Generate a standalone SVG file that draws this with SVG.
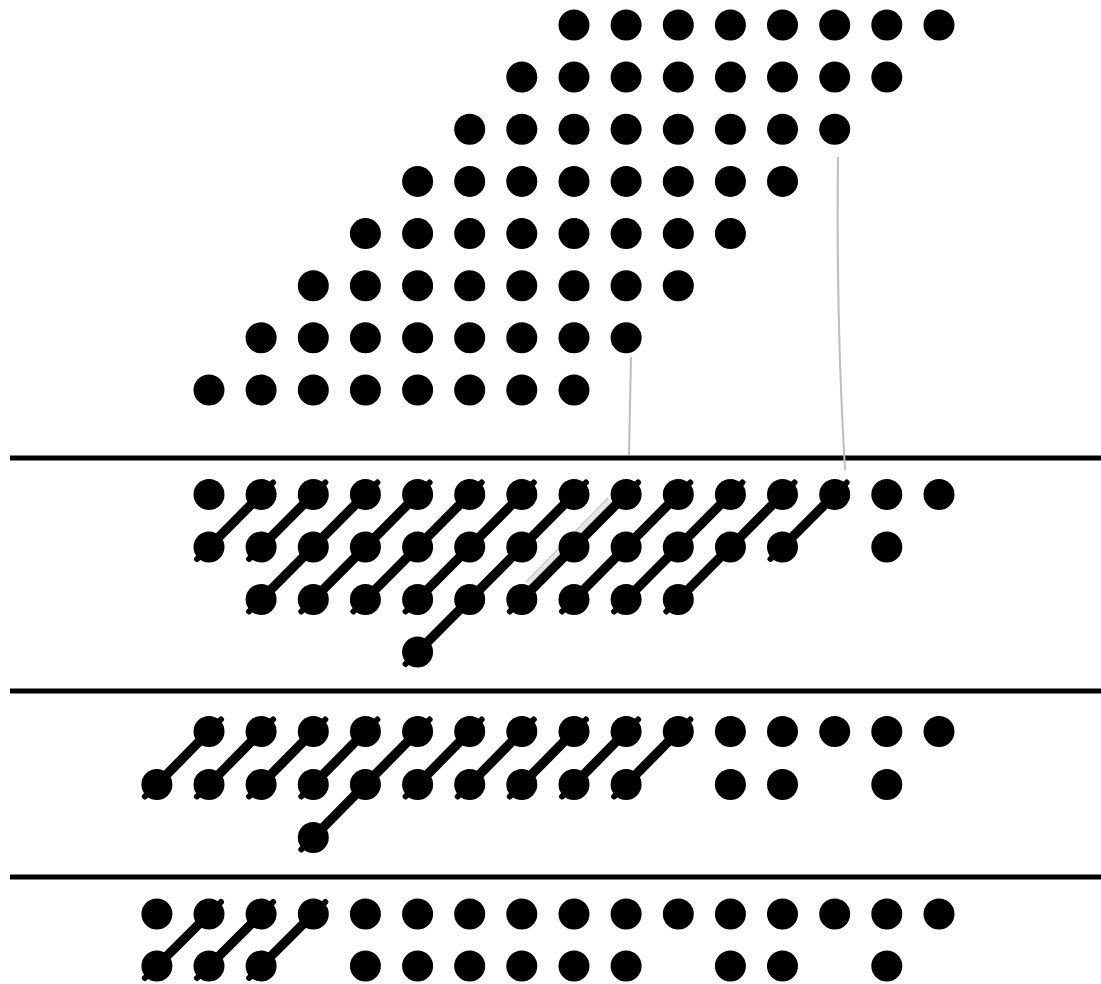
<svg xmlns="http://www.w3.org/2000/svg" width="1101" height="984" viewBox="0 0 1101 984">
<style>
.rule{stroke:#000;stroke-width:5;fill:none}
.ghost{stroke:#bdbdbd;stroke-width:2;fill:none}
.link{stroke:#000;stroke-width:9.5;fill:none;stroke-linecap:butt}
.tail{stroke:#000;stroke-width:6;fill:none;stroke-linecap:round}
.dot{fill:#000}
</style>
<defs>
<circle id="d" class="dot" r="15.5"/>
</defs>
<rect width="1101" height="984" fill="#fff"/>

<g id="separators">
<line class="rule" x1="10" y1="458" x2="1101" y2="458"/>
<line class="rule" x1="10" y1="691" x2="1101" y2="691"/>
<line class="rule" x1="10" y1="877" x2="1101" y2="877"/>
</g>

<g id="pencil-marks">
<path class="ghost" d="M838,157 Q836,320 845,470"/>
<path class="ghost" d="M631,357 L629,455"/>
<path d="M530,586 L612,502" stroke="#e4e4e4" stroke-width="9" fill="none"/>
<path d="M526,582 L608,498 M534,590 L616,506" stroke="#c8c8c8" stroke-width="1.5" fill="none"/>
</g>

<g id="partial-products">
<g id="pp-row0"><use href="#d" x="574" y="25"/><use href="#d" x="626.1" y="25"/><use href="#d" x="678.3" y="25"/><use href="#d" x="730.4" y="25"/><use href="#d" x="782.5" y="25"/><use href="#d" x="834.7" y="25"/><use href="#d" x="886.8" y="25"/><use href="#d" x="939" y="25"/></g>
<g id="pp-row1"><use href="#d" x="521.8" y="77.1"/><use href="#d" x="574" y="77.1"/><use href="#d" x="626.1" y="77.1"/><use href="#d" x="678.3" y="77.1"/><use href="#d" x="730.4" y="77.1"/><use href="#d" x="782.5" y="77.1"/><use href="#d" x="834.7" y="77.1"/><use href="#d" x="886.8" y="77.1"/></g>
<g id="pp-row2"><use href="#d" x="469.7" y="129.3"/><use href="#d" x="521.8" y="129.3"/><use href="#d" x="574" y="129.3"/><use href="#d" x="626.1" y="129.3"/><use href="#d" x="678.3" y="129.3"/><use href="#d" x="730.4" y="129.3"/><use href="#d" x="782.5" y="129.3"/><use href="#d" x="834.7" y="129.3"/></g>
<g id="pp-row3"><use href="#d" x="417.6" y="181.4"/><use href="#d" x="469.7" y="181.4"/><use href="#d" x="521.8" y="181.4"/><use href="#d" x="574" y="181.4"/><use href="#d" x="626.1" y="181.4"/><use href="#d" x="678.3" y="181.4"/><use href="#d" x="730.4" y="181.4"/><use href="#d" x="782.5" y="181.4"/></g>
<g id="pp-row4"><use href="#d" x="365.4" y="233.6"/><use href="#d" x="417.6" y="233.6"/><use href="#d" x="469.7" y="233.6"/><use href="#d" x="521.8" y="233.6"/><use href="#d" x="574" y="233.6"/><use href="#d" x="626.1" y="233.6"/><use href="#d" x="678.3" y="233.6"/><use href="#d" x="730.4" y="233.6"/></g>
<g id="pp-row5"><use href="#d" x="313.3" y="285.7"/><use href="#d" x="365.4" y="285.7"/><use href="#d" x="417.6" y="285.7"/><use href="#d" x="469.7" y="285.7"/><use href="#d" x="521.8" y="285.7"/><use href="#d" x="574" y="285.7"/><use href="#d" x="626.1" y="285.7"/><use href="#d" x="678.3" y="285.7"/></g>
<g id="pp-row6"><use href="#d" x="261.1" y="337.8"/><use href="#d" x="313.3" y="337.8"/><use href="#d" x="365.4" y="337.8"/><use href="#d" x="417.6" y="337.8"/><use href="#d" x="469.7" y="337.8"/><use href="#d" x="521.8" y="337.8"/><use href="#d" x="574" y="337.8"/><use href="#d" x="626.1" y="337.8"/></g>
<g id="pp-row7"><use href="#d" x="209" y="390"/><use href="#d" x="261.1" y="390"/><use href="#d" x="313.3" y="390"/><use href="#d" x="365.4" y="390"/><use href="#d" x="417.6" y="390"/><use href="#d" x="469.7" y="390"/><use href="#d" x="521.8" y="390"/><use href="#d" x="574" y="390"/></g>
</g>

<g id="connectors">
<line class="link" x1="209" y1="547" x2="261.1" y2="494.5"/>
<line class="link" x1="261.1" y1="547" x2="313.3" y2="494.5"/>
<line class="link" x1="261.1" y1="599.5" x2="365.4" y2="494.5"/>
<line class="link" x1="313.3" y1="599.5" x2="417.6" y2="494.5"/>
<line class="link" x1="365.4" y1="599.5" x2="469.7" y2="494.5"/>
<line class="link" x1="417.6" y1="599.5" x2="521.8" y2="494.5"/>
<line class="link" x1="417.6" y1="652" x2="574" y2="494.5"/>
<line class="link" x1="521.8" y1="599.5" x2="626.1" y2="494.5"/>
<line class="link" x1="574" y1="599.5" x2="678.3" y2="494.5"/>
<line class="link" x1="626.1" y1="599.5" x2="730.4" y2="494.5"/>
<line class="link" x1="678.3" y1="599.5" x2="782.5" y2="494.5"/>
<line class="link" x1="782.5" y1="547" x2="834.7" y2="494.5"/>
<line class="link" x1="156.9" y1="784.5" x2="209" y2="731.5"/>
<line class="link" x1="209" y1="784.5" x2="261.1" y2="731.5"/>
<line class="link" x1="261.1" y1="784.5" x2="313.3" y2="731.5"/>
<line class="link" x1="313.3" y1="784.5" x2="365.4" y2="731.5"/>
<line class="link" x1="313.3" y1="837.5" x2="417.6" y2="731.5"/>
<line class="link" x1="417.6" y1="784.5" x2="469.7" y2="731.5"/>
<line class="link" x1="469.7" y1="784.5" x2="521.8" y2="731.5"/>
<line class="link" x1="521.8" y1="784.5" x2="574" y2="731.5"/>
<line class="link" x1="574" y1="784.5" x2="626.1" y2="731.5"/>
<line class="link" x1="626.1" y1="784.5" x2="678.3" y2="731.5"/>
<line class="link" x1="156.9" y1="966" x2="209" y2="914"/>
<line class="link" x1="209" y1="966" x2="261.1" y2="914"/>
<line class="link" x1="261.1" y1="966" x2="313.3" y2="914"/>
<path class="tail" d="M209,547 l-12,12 M261.1,494.5 l12,-12 M261.1,547 l-12,12 M313.3,494.5 l12,-12 M261.1,599.5 l-12,12 M365.4,494.5 l12,-12 M313.3,599.5 l-12,12 M417.6,494.5 l12,-12 M365.4,599.5 l-12,12 M469.7,494.5 l12,-12 M417.6,599.5 l-12,12 M521.8,494.5 l12,-12 M417.6,652 l-12,12 M574,494.5 l12,-12 M521.8,599.5 l-12,12 M626.1,494.5 l12,-12 M574,599.5 l-12,12 M678.3,494.5 l12,-12 M626.1,599.5 l-12,12 M730.4,494.5 l12,-12 M678.3,599.5 l-12,12 M782.5,494.5 l12,-12 M782.5,547 l-12,12 M834.7,494.5 l12,-12"/>
<path class="tail" d="M156.9,784.5 l-12,12 M209,731.5 l12,-12 M209,784.5 l-12,12 M261.1,731.5 l12,-12 M261.1,784.5 l-12,12 M313.3,731.5 l12,-12 M313.3,784.5 l-12,12 M365.4,731.5 l12,-12 M313.3,837.5 l-12,12 M417.6,731.5 l12,-12 M417.6,784.5 l-12,12 M469.7,731.5 l12,-12 M469.7,784.5 l-12,12 M521.8,731.5 l12,-12 M521.8,784.5 l-12,12 M574,731.5 l12,-12 M574,784.5 l-12,12 M626.1,731.5 l12,-12 M626.1,784.5 l-12,12 M678.3,731.5 l12,-12"/>
<path class="tail" d="M156.9,966 l-12,12 M209,914 l12,-12 M209,966 l-12,12 M261.1,914 l12,-12 M261.1,966 l-12,12 M313.3,914 l12,-12"/>
</g>

<g id="stage1">
<g id="s1-rowA"><use href="#d" x="209" y="494.5"/><use href="#d" x="261.1" y="494.5"/><use href="#d" x="313.3" y="494.5"/><use href="#d" x="365.4" y="494.5"/><use href="#d" x="417.6" y="494.5"/><use href="#d" x="469.7" y="494.5"/><use href="#d" x="521.8" y="494.5"/><use href="#d" x="574" y="494.5"/><use href="#d" x="626.1" y="494.5"/><use href="#d" x="678.3" y="494.5"/><use href="#d" x="730.4" y="494.5"/><use href="#d" x="782.5" y="494.5"/><use href="#d" x="834.7" y="494.5"/><use href="#d" x="886.8" y="494.5"/><use href="#d" x="939" y="494.5"/></g>
<g id="s1-rowB"><use href="#d" x="209" y="547"/><use href="#d" x="261.1" y="547"/><use href="#d" x="313.3" y="547"/><use href="#d" x="365.4" y="547"/><use href="#d" x="417.6" y="547"/><use href="#d" x="469.7" y="547"/><use href="#d" x="521.8" y="547"/><use href="#d" x="574" y="547"/><use href="#d" x="626.1" y="547"/><use href="#d" x="678.3" y="547"/><use href="#d" x="730.4" y="547"/><use href="#d" x="782.5" y="547"/><use href="#d" x="886.8" y="547"/></g>
<g id="s1-rowC"><use href="#d" x="261.1" y="599.5"/><use href="#d" x="313.3" y="599.5"/><use href="#d" x="365.4" y="599.5"/><use href="#d" x="417.6" y="599.5"/><use href="#d" x="469.7" y="599.5"/><use href="#d" x="521.8" y="599.5"/><use href="#d" x="574" y="599.5"/><use href="#d" x="626.1" y="599.5"/><use href="#d" x="678.3" y="599.5"/></g>
<g id="s1-rowD"><use href="#d" x="417.6" y="652"/></g>
</g>

<g id="stage2">
<g id="s2-rowA"><use href="#d" x="209" y="731.5"/><use href="#d" x="261.1" y="731.5"/><use href="#d" x="313.3" y="731.5"/><use href="#d" x="365.4" y="731.5"/><use href="#d" x="417.6" y="731.5"/><use href="#d" x="469.7" y="731.5"/><use href="#d" x="521.8" y="731.5"/><use href="#d" x="574" y="731.5"/><use href="#d" x="626.1" y="731.5"/><use href="#d" x="678.3" y="731.5"/><use href="#d" x="730.4" y="731.5"/><use href="#d" x="782.5" y="731.5"/><use href="#d" x="834.7" y="731.5"/><use href="#d" x="886.8" y="731.5"/><use href="#d" x="939" y="731.5"/></g>
<g id="s2-rowB"><use href="#d" x="156.9" y="784.5"/><use href="#d" x="209" y="784.5"/><use href="#d" x="261.1" y="784.5"/><use href="#d" x="313.3" y="784.5"/><use href="#d" x="365.4" y="784.5"/><use href="#d" x="417.6" y="784.5"/><use href="#d" x="469.7" y="784.5"/><use href="#d" x="521.8" y="784.5"/><use href="#d" x="574" y="784.5"/><use href="#d" x="626.1" y="784.5"/><use href="#d" x="730.4" y="784.5"/><use href="#d" x="782.5" y="784.5"/><use href="#d" x="886.8" y="784.5"/></g>
<g id="s2-rowC"><use href="#d" x="313.3" y="837.5"/></g>
</g>

<g id="stage3">
<g id="s3-rowA"><use href="#d" x="156.9" y="914"/><use href="#d" x="209" y="914"/><use href="#d" x="261.1" y="914"/><use href="#d" x="313.3" y="914"/><use href="#d" x="365.4" y="914"/><use href="#d" x="417.6" y="914"/><use href="#d" x="469.7" y="914"/><use href="#d" x="521.8" y="914"/><use href="#d" x="574" y="914"/><use href="#d" x="626.1" y="914"/><use href="#d" x="678.3" y="914"/><use href="#d" x="730.4" y="914"/><use href="#d" x="782.5" y="914"/><use href="#d" x="834.7" y="914"/><use href="#d" x="886.8" y="914"/><use href="#d" x="939" y="914"/></g>
<g id="s3-rowB"><use href="#d" x="156.9" y="966"/><use href="#d" x="209" y="966"/><use href="#d" x="261.1" y="966"/><use href="#d" x="365.4" y="966"/><use href="#d" x="417.6" y="966"/><use href="#d" x="469.7" y="966"/><use href="#d" x="521.8" y="966"/><use href="#d" x="574" y="966"/><use href="#d" x="626.1" y="966"/><use href="#d" x="730.4" y="966"/><use href="#d" x="782.5" y="966"/><use href="#d" x="886.8" y="966"/></g>
</g>
</svg>
